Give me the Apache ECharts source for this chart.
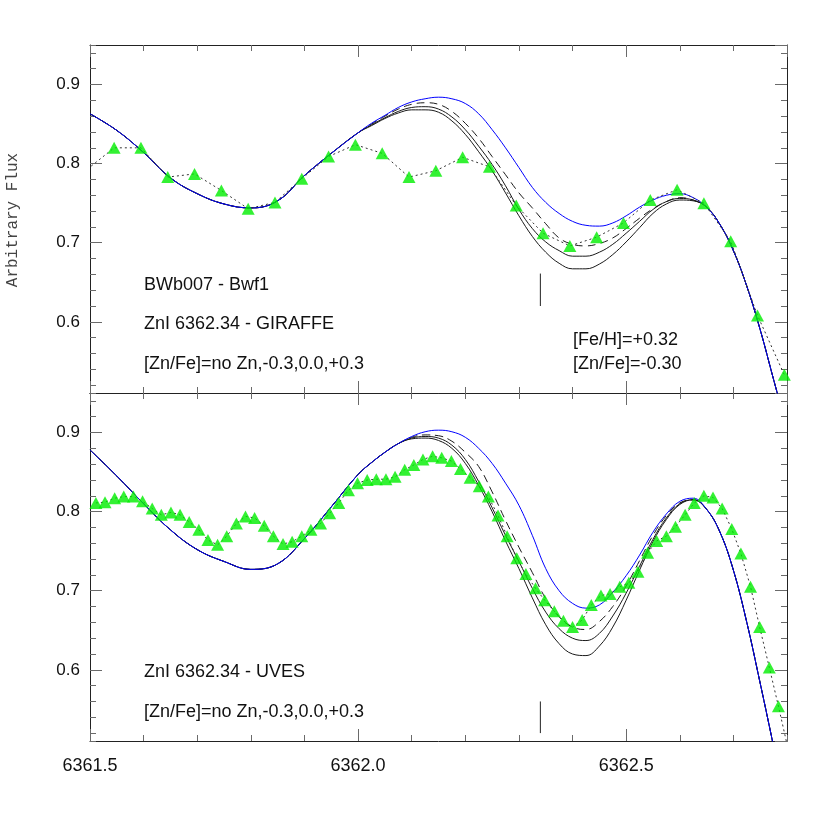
<!DOCTYPE html>
<html>
<head>
<meta charset="utf-8">
<script src="https://cdn.jsdelivr.net/npm/echarts@6/dist/echarts.min.js"></script>
<style>
html,body{margin:0;padding:0;background:#fff;}
#chart{width:830px;height:830px;}
</style>
</head>
<body>
<div id="chart"></div>
<script>
// ---------------- DATA ----------------
// Wavelength axis range and tick labels
const xMin = 6361.5, xMax = 6362.8;
const yMin = 0.51, yMax = 0.95;
const xTickLabels = ['6361.5', '6362.0', '6362.5'];
const yTickLabels = ['0.6', '0.7', '0.8', '0.9'];

// Zn I line position and marker extent (flux units) for each panel
const znLineWave = 6362.34;
const znMarkTop = [0.620, 0.661];
const znMarkBottom = [0.520, 0.560];

// GIRAFFE observed spectrum (top panel)
const girWave = [6361.545, 6361.595, 6361.645, 6361.695, 6361.745, 6361.795, 6361.845, 6361.895, 6361.945, 6361.995,
  6362.045, 6362.095, 6362.145, 6362.195, 6362.245, 6362.295, 6362.345, 6362.395, 6362.445, 6362.495,
  6362.545, 6362.595, 6362.645, 6362.695, 6362.745, 6362.795];
const girFlux = [0.820, 0.820, 0.783, 0.787, 0.766, 0.743, 0.751, 0.781, 0.809, 0.824,
  0.813, 0.783, 0.791, 0.808, 0.796, 0.747, 0.712, 0.696, 0.707, 0.725,
  0.754, 0.767, 0.750, 0.702, 0.608, 0.533];
// preceding pixel (just outside the left edge) that the dotted line comes from
const girLeadWave = [6361.495];
const girLeadFlux = [0.793];

// UVES observed spectrum (bottom panel)
const uvesWave = [6361.511, 6361.528, 6361.546, 6361.563, 6361.581, 6361.598, 6361.616, 6361.633, 6361.651, 6361.668,
  6361.685, 6361.703, 6361.720, 6361.738, 6361.755, 6361.773, 6361.790, 6361.807, 6361.825, 6361.842,
  6361.860, 6361.877, 6361.895, 6361.912, 6361.930, 6361.947, 6361.964, 6361.982, 6361.999, 6362.017,
  6362.034, 6362.052, 6362.069, 6362.087, 6362.104, 6362.121, 6362.139, 6362.156, 6362.174, 6362.191,
  6362.209, 6362.226, 6362.243, 6362.261, 6362.278, 6362.296, 6362.313, 6362.331, 6362.348, 6362.366,
  6362.383, 6362.400, 6362.418, 6362.435, 6362.453, 6362.470, 6362.488, 6362.505, 6362.522, 6362.540,
  6362.557, 6362.575, 6362.592, 6362.610, 6362.627, 6362.645, 6362.662, 6362.679, 6362.697, 6362.714,
  6362.732, 6362.749, 6362.767, 6362.784];
const uvesFlux = [0.811, 0.812, 0.817, 0.819, 0.819, 0.813, 0.804, 0.796, 0.799, 0.796,
  0.787, 0.777, 0.764, 0.758, 0.769, 0.785, 0.794, 0.792, 0.782, 0.769,
  0.759, 0.762, 0.769, 0.777, 0.785, 0.798, 0.811, 0.827, 0.836, 0.840,
  0.841, 0.841, 0.844, 0.853, 0.859, 0.866, 0.870, 0.868, 0.864, 0.854,
  0.843, 0.832, 0.819, 0.795, 0.769, 0.741, 0.721, 0.703, 0.688, 0.674,
  0.662, 0.654, 0.663, 0.682, 0.694, 0.696, 0.705, 0.710, 0.724, 0.748,
  0.763, 0.769, 0.781, 0.796, 0.811, 0.820, 0.818, 0.804, 0.778, 0.747,
  0.705, 0.654, 0.603, 0.554];
// following pixel (just outside the right edge) the dotted line goes to
const uvesTailWave = [6362.802];
const uvesTailFlux = [0.500];

// Synthetic spectra wavelength grid (shared by both panels)
const synWave = [6361.50, 6361.55, 6361.60, 6361.65, 6361.70, 6361.75, 6361.80, 6361.85, 6361.90, 6361.95, 6362.00,
  6362.025, 6362.05, 6362.075, 6362.10, 6362.125, 6362.15, 6362.175, 6362.20, 6362.225, 6362.25,
  6362.275, 6362.30, 6362.325, 6362.35, 6362.375, 6362.40, 6362.425, 6362.45, 6362.475, 6362.50,
  6362.525, 6362.55, 6362.575, 6362.60, 6362.625, 6362.65, 6362.675, 6362.70, 6362.725, 6362.75,
  6362.775, 6362.80];

// Top panel (GIRAFFE) synthetics: no Zn, [Zn/Fe]=-0.3, 0.0, +0.3
const girNoZn = [0.863, 0.842, 0.814, 0.782, 0.762, 0.749, 0.744, 0.753, 0.785, 0.813, 0.839,
  0.851, 0.861, 0.871, 0.878, 0.882, 0.884, 0.882, 0.876, 0.863, 0.843,
  0.820, 0.795, 0.770, 0.751, 0.737, 0.727, 0.722, 0.721, 0.725, 0.734,
  0.745, 0.754, 0.760, 0.762, 0.757, 0.745, 0.723, 0.690, 0.645, 0.590,
  0.527, 0.465];
const girZnM03 = [0.863, 0.842, 0.814, 0.782, 0.762, 0.749, 0.744, 0.753, 0.785, 0.813, 0.839,
  0.850, 0.860, 0.869, 0.875, 0.877, 0.875, 0.866, 0.851, 0.832, 0.809,
  0.786, 0.763, 0.744, 0.724, 0.706, 0.698, 0.696, 0.699, 0.706, 0.718,
  0.731, 0.743, 0.752, 0.757, 0.754, 0.745, 0.723, 0.690, 0.645, 0.590,
  0.527, 0.465];
const girZn00 = [0.863, 0.842, 0.814, 0.782, 0.762, 0.749, 0.744, 0.753, 0.785, 0.813, 0.839,
  0.849, 0.858, 0.866, 0.871, 0.872, 0.869, 0.859, 0.843, 0.822, 0.799,
  0.772, 0.742, 0.718, 0.701, 0.690, 0.683, 0.683, 0.688, 0.698, 0.712,
  0.727, 0.742, 0.752, 0.756, 0.754, 0.745, 0.723, 0.690, 0.645, 0.590,
  0.527, 0.465];
const girZnP03 = [0.863, 0.842, 0.814, 0.782, 0.762, 0.749, 0.744, 0.753, 0.785, 0.813, 0.839,
  0.848, 0.857, 0.864, 0.868, 0.868, 0.865, 0.854, 0.837, 0.815, 0.791,
  0.763, 0.734, 0.708, 0.688, 0.674, 0.667, 0.667, 0.673, 0.685, 0.701,
  0.719, 0.737, 0.749, 0.754, 0.753, 0.745, 0.723, 0.690, 0.645, 0.590,
  0.527, 0.465];

// Bottom panel (UVES) synthetics
const uvesNoZn = [0.878, 0.845, 0.810, 0.777, 0.752, 0.737, 0.727, 0.734, 0.766, 0.806, 0.847,
  0.862, 0.875, 0.886, 0.895, 0.901, 0.903, 0.901, 0.894, 0.880, 0.861,
  0.836, 0.808, 0.770, 0.728, 0.700, 0.684, 0.678, 0.682, 0.698, 0.719,
  0.745, 0.774, 0.797, 0.813, 0.817, 0.803, 0.774, 0.726, 0.660, 0.583,
  0.503, 0.420];
const uvesZnM03 = [0.878, 0.845, 0.810, 0.777, 0.752, 0.737, 0.727, 0.734, 0.766, 0.806, 0.847,
  0.862, 0.875, 0.886, 0.894, 0.897, 0.896, 0.889, 0.875, 0.857, 0.825,
  0.789, 0.755, 0.723, 0.690, 0.667, 0.654, 0.651, 0.661, 0.680, 0.706,
  0.738, 0.770, 0.795, 0.811, 0.815, 0.803, 0.774, 0.726, 0.660, 0.583,
  0.503, 0.420];
const uvesZn00 = [0.878, 0.845, 0.810, 0.777, 0.752, 0.737, 0.727, 0.734, 0.766, 0.806, 0.847,
  0.862, 0.875, 0.886, 0.893, 0.895, 0.893, 0.884, 0.866, 0.838, 0.805,
  0.770, 0.737, 0.703, 0.673, 0.652, 0.640, 0.637, 0.646, 0.668, 0.697,
  0.731, 0.765, 0.792, 0.810, 0.815, 0.803, 0.774, 0.726, 0.660, 0.583,
  0.503, 0.420];
const uvesZnP03 = [0.878, 0.845, 0.810, 0.777, 0.752, 0.737, 0.727, 0.734, 0.766, 0.806, 0.847,
  0.862, 0.875, 0.886, 0.892, 0.893, 0.890, 0.880, 0.861, 0.833, 0.800,
  0.763, 0.728, 0.691, 0.657, 0.633, 0.620, 0.618, 0.630, 0.654, 0.688,
  0.726, 0.762, 0.790, 0.809, 0.815, 0.803, 0.774, 0.726, 0.660, 0.583,
  0.503, 0.420];

// Annotation texts
const topTexts = ['BWb007 - Bwf1', 'ZnI 6362.34 - GIRAFFE', '[Zn/Fe]=no Zn,-0.3,0.0,+0.3'];
const topRightTexts = ['[Fe/H]=+0.32', '[Zn/Fe]=-0.30'];
const bottomTexts = ['ZnI 6362.34 - UVES', '[Zn/Fe]=no Zn,-0.3,0.0,+0.3'];
const yTitle = 'Arbitrary Flux';

// ---------------- CHART ----------------
const zip = (xs, ys) => xs.map((v, i) => [v, ys[i]]);
const FRAME = '#222', TICK = '#6a6a6a';
const SANS = "'Liberation Sans', Arial, Helvetica, sans-serif";
const NARROW = "'Liberation Sans Narrow', 'Arial Narrow', 'Liberation Sans', sans-serif";

const grids = [
  { left: 90, top: 45, width: 697, height: 348 },
  { left: 90, top: 393, width: 697, height: 348 }
];

function xAx(gi, pos, major, showLabels) {
  return {
    type: 'value', gridIndex: gi, position: pos, min: xMin, max: xMax,
    interval: major ? 0.5 : 0.1,
    axisLine: { show: major, lineStyle: { color: FRAME, width: 1 } },
    axisTick: { show: true, inside: true, length: major ? 12 : 6, lineStyle: { color: TICK, width: 1 } },
    axisLabel: {
      show: !!showLabels, showMaxLabel: false, margin: 16,
      fontFamily: NARROW, fontSize: 18, color: '#111',
      formatter: v => { const s = v.toFixed(1); return xTickLabels.indexOf(s) >= 0 ? s : ''; }
    },
    splitLine: { show: false }
  };
}
function yAx(gi, pos, major, showLabels) {
  return {
    type: 'value', gridIndex: gi, position: pos, min: yMin, max: yMax,
    splitNumber: major ? 5 : 22,
    axisLine: { show: major, lineStyle: { color: FRAME, width: 1 } },
    axisTick: { show: true, inside: true, length: major ? 12 : 6, lineStyle: { color: TICK, width: 1 } },
    axisLabel: {
      show: !!showLabels, showMinLabel: false, showMaxLabel: false, margin: 10,
      fontFamily: SANS, fontSize: 17, color: '#111', padding: [5, 0, 0, 0],
      formatter: v => { const s = v.toFixed(1); return yTickLabels.indexOf(s) >= 0 ? s : ''; }
    },
    splitLine: { show: false }
  };
}

const xAxes = [], yAxes = [];
[0, 1].forEach(gi => {
  xAxes.push(xAx(gi, 'bottom', true, gi === 1));
  xAxes.push(xAx(gi, 'bottom', false));
  xAxes.push(xAx(gi, 'top', true));
  xAxes.push(xAx(gi, 'top', false));
  yAxes.push(yAx(gi, 'left', true, true));
  yAxes.push(yAx(gi, 'left', false));
  yAxes.push(yAx(gi, 'right', true));
  yAxes.push(yAx(gi, 'right', false));
});

function synth(panel, ys, dashed, color, z) {
  return {
    type: 'line', xAxisIndex: panel * 4, yAxisIndex: panel * 4,
    data: zip(synWave, ys), smooth: 0.4, symbol: 'none', clip: true, z: z,
    lineStyle: { color: color, width: 1, type: dashed ? [8, 5] : 'solid' },
    silent: true
  };
}
function obsLine(panel, xs, ys) {
  return {
    type: 'line', xAxisIndex: panel * 4, yAxisIndex: panel * 4,
    data: zip(xs, ys), symbol: 'none', clip: true, z: 4,
    lineStyle: { color: '#333', width: 1, type: [2, 3] }, silent: true
  };
}
function obsPts(panel, xs, ys) {
  return {
    type: 'scatter', xAxisIndex: panel * 4, yAxisIndex: panel * 4,
    data: zip(xs, ys), symbol: 'triangle', symbolSize: [13, 12], clip: true, z: 6,
    itemStyle: { color: '#00ee00' }, silent: true
  };
}
function marker(panel, ext) {
  return {
    type: 'line', xAxisIndex: panel * 4, yAxisIndex: panel * 4,
    data: [[znLineWave, ext[0]], [znLineWave, ext[1]]], symbol: 'none', z: 3,
    lineStyle: { color: '#222', width: 1 }, silent: true
  };
}

const series = [
  synth(0, girZnP03, false, '#1a1a1a', 2),
  synth(0, girZn00, false, '#1a1a1a', 2),
  synth(0, girZnM03, true, '#1a1a1a', 2),
  synth(0, girNoZn, false, '#0000ff', 3),
  obsLine(0, girLeadWave.concat(girWave), girLeadFlux.concat(girFlux)),
  obsPts(0, girWave, girFlux),
  marker(0, znMarkTop),
  synth(1, uvesZnP03, false, '#1a1a1a', 2),
  synth(1, uvesZn00, false, '#1a1a1a', 2),
  synth(1, uvesZnM03, true, '#1a1a1a', 2),
  synth(1, uvesNoZn, false, '#0000ff', 3),
  obsLine(1, uvesWave.concat(uvesTailWave), uvesFlux.concat(uvesTailFlux)),
  obsPts(1, uvesWave, uvesFlux),
  marker(1, znMarkBottom)
];

function txt(s, x, y, extra) {
  return Object.assign({
    type: 'text', x: x, y: y, silent: true, z: 100,
    style: { text: s, fill: '#111', font: '18px ' + SANS, textAlign: 'left', textVerticalAlign: 'middle' }
  }, extra || {});
}
const graphics = [
  txt(topTexts[0], 144, 285),
  txt(topTexts[1], 144, 324),
  txt(topTexts[2], 144, 364),
  txt(topRightTexts[0], 573, 340),
  txt(topRightTexts[1], 573, 364),
  txt(bottomTexts[0], 144, 672),
  txt(bottomTexts[1], 144, 712),
  {
    type: 'text', x: 13, y: 220, rotation: Math.PI / 2, silent: true,
    style: { text: yTitle, fill: '#444', font: "16px 'Liberation Mono', 'DejaVu Sans Mono', monospace", textAlign: 'center', textVerticalAlign: 'middle' }
  }
];

const chart = echarts.init(document.getElementById('chart'), null, { renderer: 'canvas' });
chart.setOption({
  animation: false,
  backgroundColor: '#ffffff',
  grid: grids,
  xAxis: xAxes,
  yAxis: yAxes,
  series: series,
  graphic: graphics
});
</script>
</body>
</html>
